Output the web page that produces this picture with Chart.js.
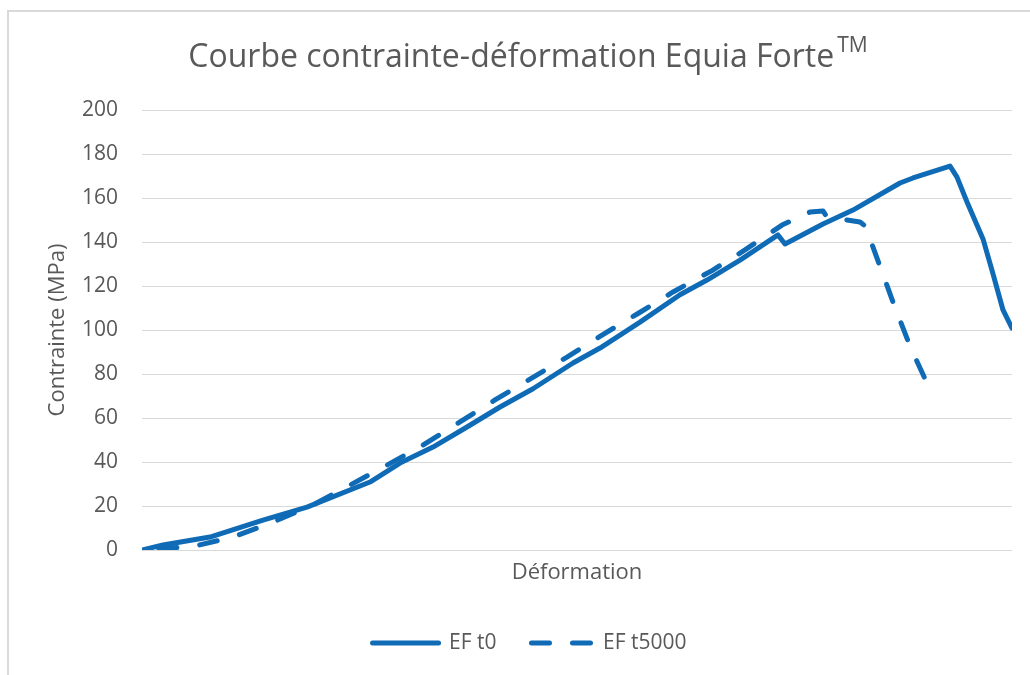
<!DOCTYPE html>
<html>
<head>
<meta charset="utf-8">
<script src="https://cdn.jsdelivr.net/npm/chart.js@4.4.0/dist/chart.umd.min.js"></script>
<style>
  html, body { margin: 0; padding: 0; background: #ffffff; overflow: hidden; }
  #frame { position: absolute; left: 7px; top: 10px; width: 1100px; height: 720px;
           border-left: 2px solid #d9d9d9; border-top: 2px solid #d9d9d9; }
  #wrap { position: absolute; left: 0; top: 0; width: 1030px; height: 675px; }
</style>
</head>
<body>
<div id="frame"></div>
<div id="wrap"><canvas id="c" width="1030" height="675"></canvas></div>
<script>
// ---- Texts ----
const titleText = "Courbe contrainte-déformation Equia Forte";
const titleSup = "TM";
const xAxisTitle = "Déformation";
const yAxisTitle = "Contrainte (MPa)";
const seriesNames = ["EF t0", "EF t5000"];

// ---- Y tick labels (MPa) ----
const yTicks = [0, 20, 40, 60, 80, 100, 120, 140, 160, 180, 200];

// ---- Series EF t0 (solid) ----
const t0Strain = [0, 2.1, 6.8, 12.1, 16.5, 22.8, 25.8, 29.1, 32.5, 35.8, 39.1, 43.1, 45.8, 49.8, 53.8, 56.5, 59.8, 63.6, 64.3, 68.1, 71.1, 75.8, 77.1, 80.8, 81.5, 82.5, 84.1, 85.1, 86.1, 87.0];
const t0Stress = [0, 2.3, 5.9, 13.6, 19.5, 30.9, 39.5, 46.8, 55.9, 65.0, 73.3, 85.0, 91.8, 103.6, 116.0, 122.7, 131.8, 143.2, 139.1, 148.2, 154.5, 166.8, 169.1, 174.5, 169.5, 158.2, 141.4, 125.5, 109.1, 100.9];

// ---- Series EF t5000 (dashed) ----
const t5000Strain = [0, 1.8, 5.3, 9.1, 13.1, 17.1, 20.8, 24.5, 28.1, 31.6, 35.3, 38.8, 42.5, 46.0, 49.6, 53.1, 57.0, 60.3, 64.0, 66.8, 68.1, 68.5, 70.5, 71.8, 72.3, 73.1, 75.1, 76.8, 78.4];
const t5000Stress = [0, 0.5, 1.8, 5.9, 12.7, 20.5, 29.5, 38.6, 47.7, 57.7, 68.2, 77.7, 87.7, 97.7, 107.5, 117.3, 127.0, 136.4, 147.7, 153.6, 154.1, 151.4, 150.0, 149.1, 147.3, 137.7, 112.7, 92.7, 76.8];

const toPoints = (xs, ys) => xs.map((x, i) => ({ x: x, y: ys[i] }));

const LINE_COLOR = '#0f6bb5';
const TEXT_COLOR = '#595959';
const GRID_COLOR = '#d9d9d9';
const FONT = "'Open Sans', sans-serif";

Chart.defaults.font.family = FONT;
Chart.defaults.color = TEXT_COLOR;

const titlePlugin = {
  id: 'supTitle',
  afterDraw(chart) {
    const ctx = chart.ctx;
    ctx.save();
    ctx.fillStyle = TEXT_COLOR;
    ctx.textBaseline = 'alphabetic';
    ctx.textAlign = 'left';
    const mainFont = "32px " + FONT;
    const supFont = "21px " + FONT;
    ctx.font = mainFont;
    const w1 = ctx.measureText(titleText).width;
    ctx.font = supFont;
    const w2 = ctx.measureText(titleSup).width;
    const gap = 3;
    const x0 = 528 - (w1 + gap + w2) / 2;
    ctx.font = mainFont;
    ctx.fillText(titleText, x0, 67);
    ctx.font = supFont;
    ctx.fillText(titleSup, x0 + w1 + gap, 52);
    ctx.restore();
  }
};

new Chart(document.getElementById('c'), {
  type: 'line',
  data: {
    datasets: [
      {
        label: seriesNames[0],
        data: toPoints(t0Strain, t0Stress),
        borderColor: LINE_COLOR,
        backgroundColor: LINE_COLOR,
        borderWidth: 5,
        borderCapStyle: 'round',
        borderJoinStyle: 'round',
        pointRadius: 0,
        tension: 0,
        fill: false
      },
      {
        label: seriesNames[1],
        data: toPoints(t5000Strain, t5000Stress),
        borderColor: LINE_COLOR,
        backgroundColor: LINE_COLOR,
        borderWidth: 5,
        borderDash: [18, 23],
        borderDashOffset: 24,
        borderCapStyle: 'round',
        borderJoinStyle: 'round',
        pointRadius: 0,
        tension: 0,
        fill: false
      }
    ]
  },
  options: {
    responsive: false,
    animation: false,
    devicePixelRatio: 1,
    layout: { padding: { left: 47, right: 18, top: 110, bottom: 11.5 } },
    scales: {
      x: {
        type: 'linear',
        min: 0,
        max: 87,
        ticks: { display: false },
        grid: { display: false, drawTicks: false },
        border: { display: false },
        title: {
          display: true,
          text: xAxisTitle,
          color: TEXT_COLOR,
          font: { size: 22, lineHeight: 1 },
          padding: { top: 0, bottom: 18.5 }
        },
        afterFit(scale) { scale.height = 52.5; }
      },
      y: {
        type: 'linear',
        min: 0,
        max: 200,
        afterBuildTicks(scale) { scale.ticks = yTicks.map(v => ({ value: v })); },
        ticks: { color: TEXT_COLOR, font: { size: 21 }, padding: 24 },
        grid: { color: GRID_COLOR, lineWidth: 1, drawTicks: false },
        border: { display: false },
        title: {
          display: true,
          text: yAxisTitle,
          color: TEXT_COLOR,
          font: { size: 22, lineHeight: 1 },
          padding: { top: 0, bottom: 0 }
        },
        afterFit(scale) { scale.width = 95; }
      }
    },
    plugins: {
      title: { display: false },
      tooltip: { enabled: false },
      legend: {
        display: true,
        position: 'bottom',
        labels: {
          usePointStyle: true,
          pointStyle: 'line',
          pointStyleWidth: 66,
          padding: 30,
          color: TEXT_COLOR,
          font: { size: 21 },
          generateLabels(chart) {
            const items = Chart.defaults.plugins.legend.labels.generateLabels(chart);
            items.forEach((it) => {
              const ds = chart.data.datasets[it.datasetIndex];
              it.lineWidth = ds.borderWidth;
              it.lineDash = ds.borderDash || [];
              it.lineDashOffset = ds.borderDash ? 36 : 0;
              it.lineCap = 'round';
              it.strokeStyle = ds.borderColor;
              it.fillStyle = ds.borderColor;
              it.pointStyle = 'line';
            });
            return items;
          }
        }
      }
    }
  },
  plugins: [titlePlugin]
});
</script>
</body>
</html>
